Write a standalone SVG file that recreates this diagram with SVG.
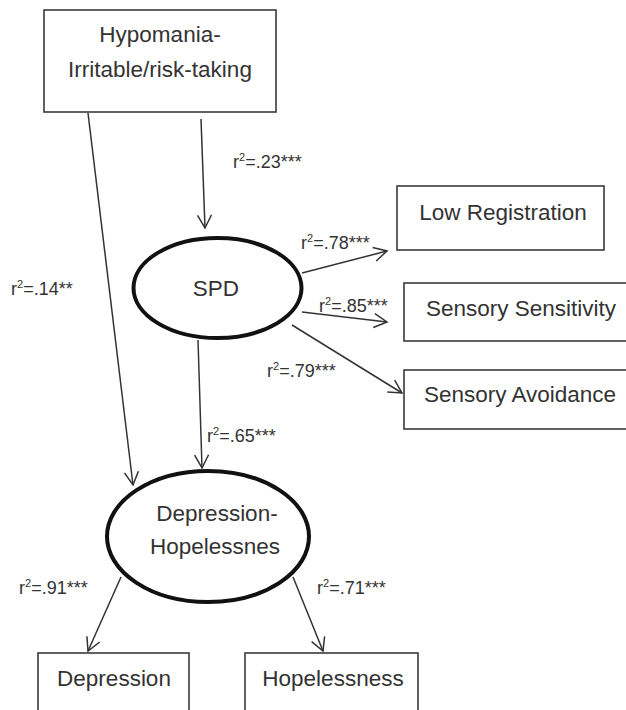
<svg xmlns="http://www.w3.org/2000/svg" width="626" height="710" viewBox="0 0 626 710">
<style>
.box{fill:#fff;stroke:#3a3a3a;stroke-width:1.6}
.ell{fill:#fff;stroke:#111;stroke-width:4}
.nt{font-family:"Liberation Sans",Arial,sans-serif;font-size:22.5px;fill:#333;text-anchor:middle}
.lb{font-family:"Liberation Sans",Arial,sans-serif;font-size:18px;fill:#333}
.sup{font-size:11px}
.cn{stroke:#333;stroke-width:1.5;fill:none;marker-end:url(#ah)}
</style>
<defs>
<marker id="ah" markerUnits="userSpaceOnUse" markerWidth="20" markerHeight="20" refX="14" refY="8" orient="auto" overflow="visible">
<path d="M1,1 L14,8 L1,15" fill="none" stroke="#333" stroke-width="1.5"/>
</marker>
</defs>
<g id="connectors">
<line class="cn" x1="88" y1="113" x2="133" y2="485"/>
<line class="cn" x1="201" y1="119" x2="205" y2="228"/>
<line class="cn" x1="302" y1="273" x2="387" y2="251"/>
<line class="cn" x1="302" y1="312" x2="387" y2="322"/>
<line class="cn" x1="292" y1="325" x2="402" y2="393"/>
<line class="cn" x1="198" y1="340" x2="202" y2="468"/>
<line class="cn" x1="121" y1="577" x2="88" y2="651"/>
<line class="cn" x1="293" y1="577" x2="323" y2="651"/>
</g>
<g id="labels">
<text class="lb" x="233" y="168">r<tspan class="sup" dy="-7">2</tspan><tspan dy="7">=.23***</tspan></text>
<text class="lb" x="11" y="295">r<tspan class="sup" dy="-7">2</tspan><tspan dy="7">=.14**</tspan></text>
<text class="lb" x="301" y="249">r<tspan class="sup" dy="-7">2</tspan><tspan dy="7">=.78***</tspan></text>
<text class="lb" x="319" y="312">r<tspan class="sup" dy="-7">2</tspan><tspan dy="7">=.85***</tspan></text>
<text class="lb" x="267" y="377">r<tspan class="sup" dy="-7">2</tspan><tspan dy="7">=.79***</tspan></text>
<text class="lb" x="207" y="442">r<tspan class="sup" dy="-7">2</tspan><tspan dy="7">=.65***</tspan></text>
<text class="lb" x="19" y="594">r<tspan class="sup" dy="-7">2</tspan><tspan dy="7">=.91***</tspan></text>
<text class="lb" x="317" y="594">r<tspan class="sup" dy="-7">2</tspan><tspan dy="7">=.71***</tspan></text>
</g>
<g id="hypomania">
<rect class="box" x="44" y="10" width="232" height="102"/>
<text class="nt" x="160" y="42">Hypomania-</text>
<text class="nt" x="160" y="77">Irritable/risk-taking</text>
</g>
<g id="spd">
<ellipse class="ell" cx="217.5" cy="288" rx="84" ry="50"/>
<text class="nt" x="216" y="296">SPD</text>
</g>
<g id="low-registration">
<rect class="box" x="397" y="186" width="207" height="64"/>
<text class="nt" x="503" y="220">Low Registration</text>
</g>
<g id="sensory-sensitivity">
<rect class="box" x="404" y="283" width="230" height="58"/>
<text class="nt" x="521" y="316">Sensory Sensitivity</text>
</g>
<g id="sensory-avoidance">
<rect class="box" x="404" y="370" width="230" height="59"/>
<text class="nt" x="520" y="402">Sensory Avoidance</text>
</g>
<g id="depression-hopelessnes">
<ellipse class="ell" cx="208" cy="536.5" rx="101" ry="65.5"/>
<text class="nt" x="217" y="521">Depression-</text>
<text class="nt" x="215" y="554">Hopelessnes</text>
</g>
<g id="depression">
<rect class="box" x="38" y="653" width="151" height="70"/>
<text class="nt" x="114" y="686">Depression</text>
</g>
<g id="hopelessness">
<rect class="box" x="245" y="653" width="173" height="70"/>
<text class="nt" x="333" y="686">Hopelessness</text>
</g>
</svg>
